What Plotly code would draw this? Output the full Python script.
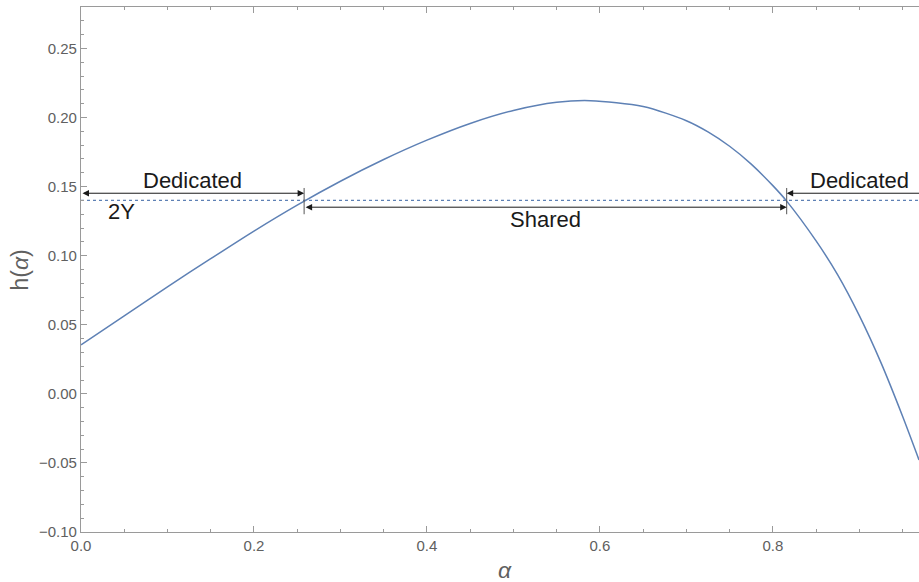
import plotly.graph_objects as go

# ---- data ----
alpha = [0.0, 0.05, 0.10, 0.15, 0.20, 0.25, 0.30, 0.35, 0.40, 0.45, 0.50, 0.55, 0.589,
         0.65, 0.70, 0.725, 0.75, 0.775, 0.80, 0.816, 0.85, 0.875, 0.90, 0.925, 0.95, 0.969]
h_alpha = [0.0355, 0.0565, 0.0775, 0.0978, 0.1178, 0.1366, 0.1539, 0.1696, 0.1836, 0.1957, 0.2051,
           0.2110, 0.2122, 0.2080, 0.1977, 0.1896, 0.1792, 0.1663, 0.1507, 0.1395, 0.1107, 0.0861,
           0.0566, 0.0226, -0.0162, -0.0478]

threshold = 0.14            # 2Y level
crossings = [0.258, 0.816]  # where h(alpha) = 2Y
x_range = [0.0, 0.969]
y_range = [-0.10, 0.28]

x_ticks = [0.0, 0.2, 0.4, 0.6, 0.8]
y_ticks = [-0.10, -0.05, 0.00, 0.05, 0.10, 0.15, 0.20, 0.25]

region_labels = ["Dedicated", "Shared", "Dedicated"]
threshold_label = "2Y"

upper_arrow_y = 0.1452
lower_arrow_y = 0.1351
bar_y = [0.1300, 0.1490]

CURVE = "#5E81B5"
AXIS = "#9a9a9a"
LABEL = "#606060"
INK = "#1a1a1a"
FONT = "Liberation Sans, Arial, sans-serif"

fig = go.Figure()
fig.add_trace(go.Scatter(x=[x_range[0], x_range[1]], y=[threshold, threshold], mode="lines",
                         line=dict(color=CURVE, width=1.3, dash="3px,3px"), hoverinfo="skip"))
fig.add_trace(go.Scatter(x=alpha, y=h_alpha, mode="lines",
                         line=dict(color=CURVE, width=1.5, shape="spline", smoothing=0.8)))

# vertical bars at crossings
for c in crossings:
    fig.add_shape(type="line", x0=c, x1=c, y0=bar_y[0], y1=bar_y[1], xref="x", yref="y",
                  line=dict(color="#555555", width=1))

arrow_common = dict(showarrow=True, text="", axref="x", ayref="y", xref="x", yref="y",
                    arrowcolor=INK, arrowwidth=1, arrowhead=2, arrowsize=1.3, standoff=0,
                    startstandoff=0, startarrowhead=2, startarrowsize=1.3)
# left dedicated arrow (double)
fig.add_annotation(x=crossings[0], y=upper_arrow_y, ax=x_range[0], ay=upper_arrow_y,
                   arrowside="end+start", **arrow_common)
# shared arrow (double)
fig.add_annotation(x=crossings[1], y=lower_arrow_y, ax=crossings[0], ay=lower_arrow_y,
                   arrowside="end+start", **arrow_common)
# right dedicated arrow (single, pointing left)
fig.add_annotation(x=crossings[1], y=upper_arrow_y, ax=x_range[1] + 0.05, ay=upper_arrow_y,
                   arrowside="end", **arrow_common)

txt = dict(showarrow=False, xref="x", yref="y", font=dict(family=FONT, size=22, color=INK))
fig.add_annotation(text=region_labels[0], x=(x_range[0] + crossings[0]) / 2, y=0.1545, **txt)
fig.add_annotation(text=region_labels[1], x=(crossings[0] + crossings[1]) / 2, y=0.1262, **txt)
fig.add_annotation(text=region_labels[2], x=0.900, y=0.1545, **txt)
fig.add_annotation(text=threshold_label, x=0.047, y=0.1318, **txt)

# axis titles
fig.add_annotation(text="h(<i>α</i>)", xref="paper", yref="paper", x=-0.0728, y=0.5,
                   textangle=-90, showarrow=False, xanchor="center", yanchor="middle",
                   font=dict(family=FONT, size=23, color=LABEL))
fig.add_annotation(text="<i>α</i>", xref="paper", yref="paper", x=0.506, y=-0.0724,
                   showarrow=False, xanchor="center", yanchor="middle",
                   font=dict(family=FONT, size=23, color=LABEL))

fig.update_layout(
    width=919, height=582,
    margin=dict(l=81, r=0, t=7, b=50),
    paper_bgcolor="white", plot_bgcolor="white",
    showlegend=False,
    font=dict(family=FONT, size=15, color=LABEL),
)
fig.update_xaxes(range=x_range, tickvals=x_ticks, ticktext=[f"{v:.1f}" for v in x_ticks],
                 showgrid=False, zeroline=False, showline=True, linecolor=AXIS, linewidth=1.3,
                 mirror="allticks", ticks="inside", ticklen=6, tickcolor=AXIS, tickwidth=1,
                 tickfont=dict(family=FONT, size=15, color=LABEL),
                 minor=dict(ticks="inside", dtick=0.05, tick0=0, ticklen=3, tickcolor=AXIS, showgrid=False))
fig.update_yaxes(range=y_range, tickvals=y_ticks,
                 ticktext=[(f"{v:.2f}" if v >= 0 else "\u2212" + f"{abs(v):.2f}") for v in y_ticks],
                 showgrid=False, zeroline=False, showline=True, linecolor=AXIS, linewidth=1.3,
                 mirror=False, ticks="inside", ticklen=6, tickcolor=AXIS, tickwidth=1,
                 tickfont=dict(family=FONT, size=15, color=LABEL),
                 minor=dict(ticks="inside", dtick=0.01, tick0=0, ticklen=3, tickcolor=AXIS, showgrid=False))

# remove the page's default body margin so the 919x582 figure fills the window exactly
fig.write_html("out.html", config={"displayModeBar": False},
               post_script="document.body.style.margin='0';document.body.style.overflow='hidden';")
